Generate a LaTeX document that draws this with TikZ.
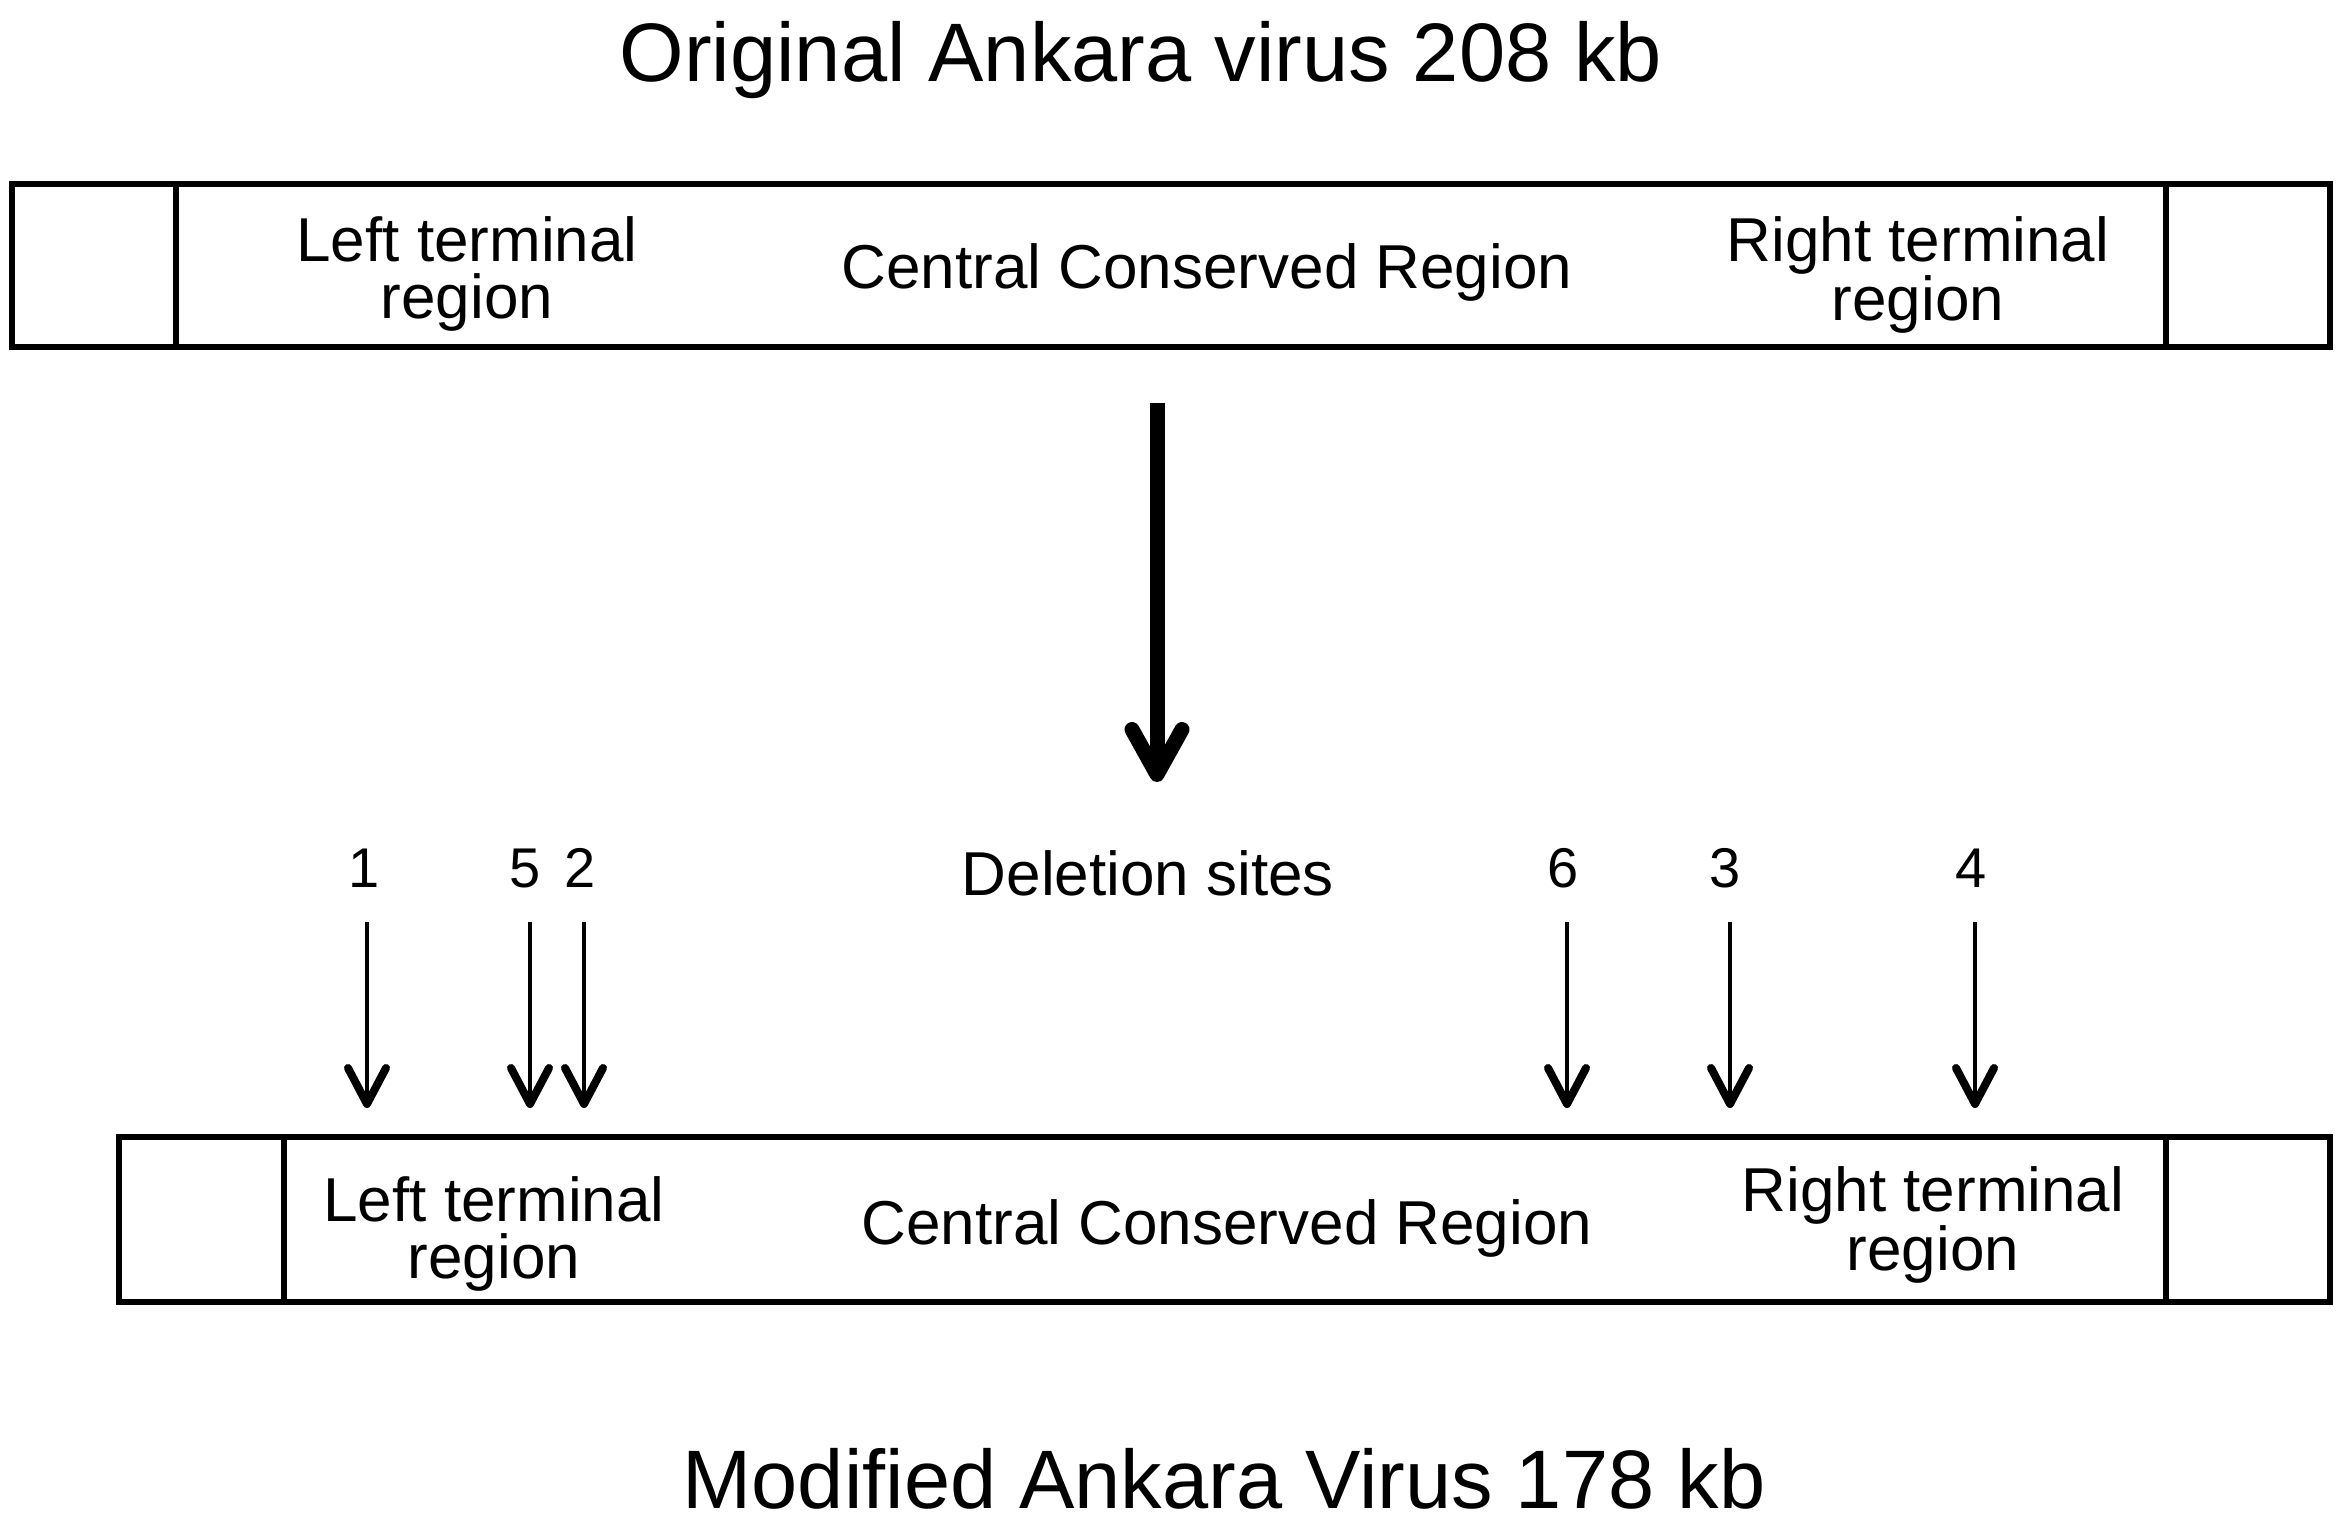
\documentclass[tikz,border=0pt]{standalone}
\usepackage{fontspec}
\setmainfont{Liberation Sans}
\usetikzlibrary{arrows.meta}
\begin{document}
\begin{tikzpicture}[x=1pt,y=-1pt,
  seg/.style={draw, line width=6pt, inner sep=0pt, outer sep=0pt, anchor=north west},
  lbl/.style={font=\fontsize{62}{57}\selectfont, align=center, inner sep=0pt},
  ttl/.style={font=\fontsize{83}{90}\selectfont, inner sep=0pt},
  num/.style={font=\fontsize{56}{60}\selectfont, inner sep=0pt},
  site/.style={line width=4.5pt, -{Straight Barb[length=36pt,width=38pt,line width=8pt,round]}},
  bigarrow/.style={line width=15pt, -{Straight Barb[length=45pt,width=50pt,round]}}
]
\useasboundingbox (0,0) rectangle (2341,1523);
\fill[white] (0,0) rectangle (2341,1523);

% titles
\node[ttl] (top) at (1141,60) {Original Ankara virus 208 kb};
\node[ttl] (bot) at (1224,1479) {Modified Ankara Virus 178 kb};

% original genome
\node[seg, minimum width=164pt, minimum height=163pt] (tA) at (12,184) {};
\node[seg, minimum width=1990pt, minimum height=163pt] (tB) at (176,184) {};
\node[seg, minimum width=164pt, minimum height=163pt] (tC) at (2166,184) {};
\node[lbl] (tL) at (467,274) {Left terminal\\region};
\node[lbl] (tM) at (1207,272) {Central Conserved Region};
\node[lbl] (tR) at (1918,275) {Right terminal\\region};

% modified genome
\node[seg, minimum width=165pt, minimum height=165pt] (bA) at (119,1137) {};
\node[seg, minimum width=1882pt, minimum height=165pt] (bB) at (284,1137) {};
\node[seg, minimum width=164pt, minimum height=165pt] (bC) at (2166,1137) {};
\node[lbl] (bL) at (494,1234) {Left terminal\\region};
\node[lbl] (bM) at (1227,1228) {Central Conserved Region};
\node[lbl] (bR) at (1933,1225) {Right terminal\\region};

% big arrow
\coordinate (bs) at (1157,403);
\coordinate (be) at (1157,782);
\draw[bigarrow] (bs) -- (be);

% deletion sites
\node[lbl] (ds) at (1148,873) {Deletion sites};
\foreach \n/\x/\lx in {1/367/364, 5/530/525, 2/584/580, 6/1567/1563, 3/1730/1725, 4/1975/1971}{
  \node[num] (n\n) at (\lx,868) {\n};
  \coordinate (s\n) at (\x,922);
  \coordinate (e\n) at (\x,1108);
  \draw[site] (s\n) -- (e\n);
}
\end{tikzpicture}
\end{document}
